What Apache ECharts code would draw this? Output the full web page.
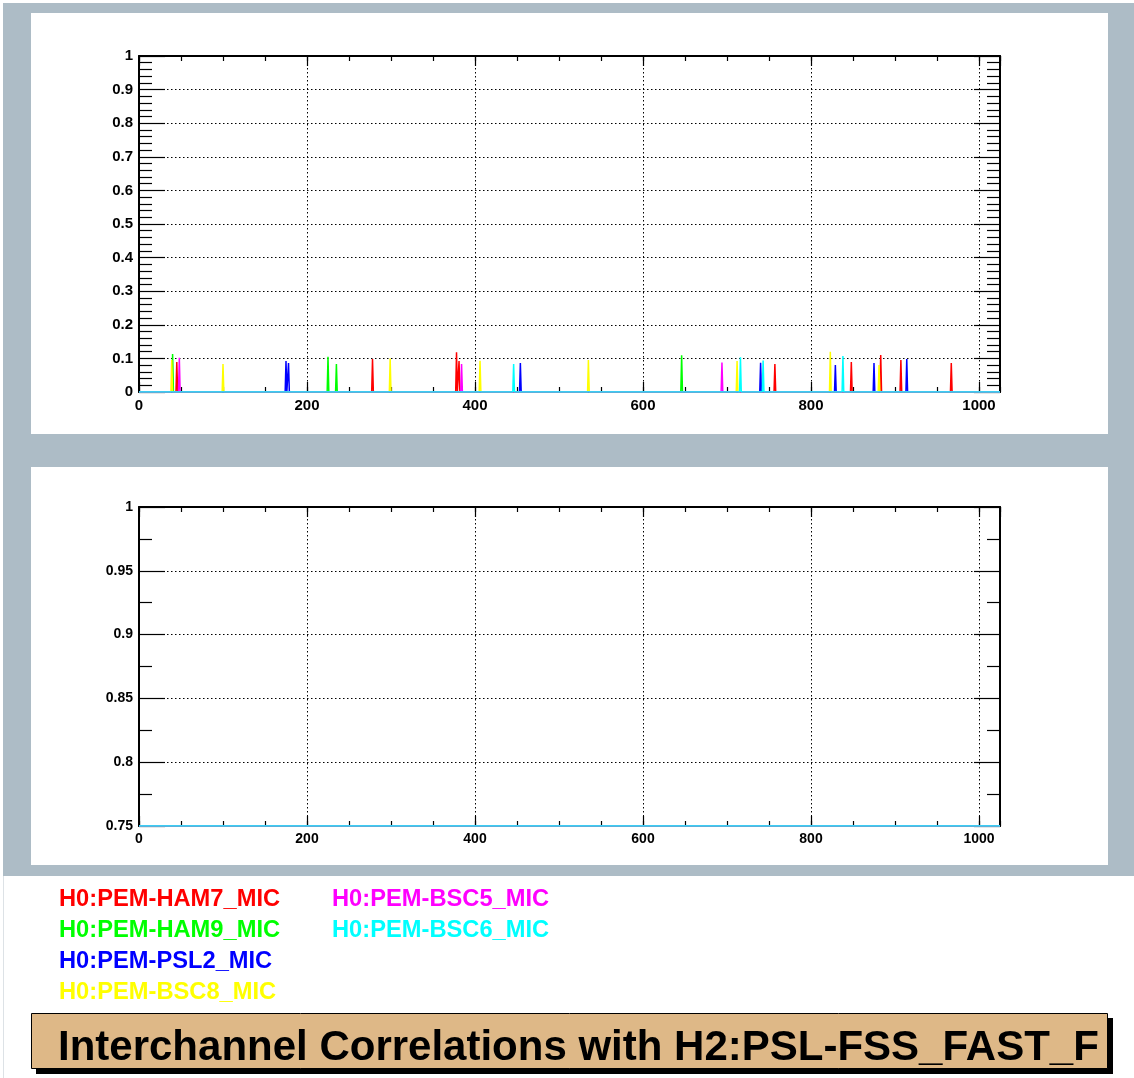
<!DOCTYPE html>
<html>
<head>
<meta charset="utf-8">
<script src="https://cdn.jsdelivr.net/npm/echarts@6/dist/echarts.min.js"></script>
<style>
  html, body { margin: 0; padding: 0; background: #ffffff; }
  #chart { width: 1134px; height: 1078px; }
</style>
</head>
<body>
<div id="chart"></div>
<script>
// Frequency axis (Hz) shared by both panels
const X_MIN = 0;
const X_MAX = 1025;
const X_MAJOR = 200;
const X_MINOR = 50;

// Correlation axis ranges: full range on top, zoomed range below
const TOP_Y_MIN = 0, TOP_Y_MAX = 1, TOP_Y_STEP = 0.1, TOP_Y_SUB = 5;
const BOT_Y_MIN = 0.75, BOT_Y_MAX = 1, BOT_Y_STEP = 0.05, BOT_Y_SUB = 2;

// Channels, in drawing order
const channelNames = [
  'H0:PEM-HAM7_MIC',
  'H0:PEM-HAM9_MIC',
  'H0:PEM-PSL2_MIC',
  'H0:PEM-BSC8_MIC',
  'H0:PEM-BSC5_MIC',
  'H0:PEM-BSC6_MIC'
];
const channelColors = ['#ff0000', '#00ff00', '#0000ff', '#ffff00', '#ff00ff', '#00ffff'];

// Correlation peaks per channel: frequency (Hz) and correlation value.
// Everywhere else the correlation is zero.
const ham7Freq = [45, 278, 378, 381, 757, 848, 883, 907, 967];
const ham7Corr = [0.089, 0.098, 0.118, 0.092, 0.083, 0.089, 0.110, 0.095, 0.086];

const ham9Freq = [40, 225, 235, 646];
const ham9Corr = [0.113, 0.105, 0.083, 0.109];

const psl2Freq = [175, 178, 454, 740, 829, 875, 914];
const psl2Corr = [0.092, 0.086, 0.086, 0.087, 0.080, 0.086, 0.098];

const bsc8Freq = [39, 100, 299, 406, 535, 712, 823, 881];
const bsc8Corr = [0.095, 0.083, 0.100, 0.093, 0.095, 0.092, 0.120, 0.080];

const bsc5Freq = [48, 384, 694];
const bsc5Corr = [0.102, 0.083, 0.088];

const bsc6Freq = [446, 716, 743, 838];
const bsc6Corr = [0.083, 0.103, 0.094, 0.107];

const peakFreqs = [ham7Freq, ham9Freq, psl2Freq, bsc8Freq, bsc5Freq, bsc6Freq];
const peakCorrs = [ham7Corr, ham9Corr, psl2Corr, bsc8Corr, bsc5Corr, bsc6Corr];

const FONT = '"Liberation Sans", Arial, Helvetica, sans-serif';

// Build a trace: zero baseline with one-bin-wide peaks.
// Values under the axis floor are drawn on the frame edge.
function buildTrace(freqs, corrs, floor) {
  const pts = [[X_MIN, 0]];
  freqs.forEach(function (f, i) {
    pts.push([f - 1, 0], [f, corrs[i]], [f + 1, 0]);
  });
  pts.push([X_MAX, 0]);
  return pts.map(function (p) { return [p[0], Math.max(p[1], floor)]; });
}

const GRIDS = [
  { left: 139, top: 56, width: 861, height: 336, yMin: TOP_Y_MIN, yMax: TOP_Y_MAX, yStep: TOP_Y_STEP, ySub: TOP_Y_SUB, font: 15 },
  { left: 139, top: 507, width: 861, height: 319, yMin: BOT_Y_MIN, yMax: BOT_Y_MAX, yStep: BOT_Y_STEP, ySub: BOT_Y_SUB, font: 14 }
];

const dotted = { color: '#000', width: 1, type: [1.5, 2.5] };
const frameLine = { show: true, onZero: false, lineStyle: { color: '#000', width: 2 } };
const tickLine = { color: '#000', width: 1.2 };

const grid = [], xAxis = [], yAxis = [], series = [];

GRIDS.forEach(function (g, gi) {
  grid.push({ left: g.left, top: g.top, width: g.width, height: g.height, containLabel: false });

  const xBase = { type: 'value', gridIndex: gi, min: X_MIN, max: X_MAX };
  // bottom: labelled axis with major ticks and dotted grid
  xAxis.push(Object.assign({}, xBase, {
    position: 'bottom', interval: X_MAJOR,
    axisLine: frameLine,
    axisTick: { show: true, inside: true, length: 10, lineStyle: tickLine },
    axisLabel: { show: true, margin: 6, showMaxLabel: false, color: '#000', fontWeight: 'bold',
      fontFamily: FONT, fontSize: g.font, formatter: function (v) { return String(v); } },
    splitLine: { show: true, lineStyle: dotted }
  }));
  // bottom: secondary ticks
  xAxis.push(Object.assign({}, xBase, {
    position: 'bottom', interval: X_MINOR,
    axisLine: { show: false, onZero: false },
    axisTick: { show: true, inside: true, length: 5, lineStyle: tickLine },
    axisLabel: { show: false }, splitLine: { show: false }
  }));
  // top: frame edge with major ticks
  xAxis.push(Object.assign({}, xBase, {
    position: 'top', interval: X_MAJOR,
    axisLine: frameLine,
    axisTick: { show: true, inside: true, length: 10, lineStyle: tickLine },
    axisLabel: { show: false }, splitLine: { show: false }
  }));
  // top: secondary ticks
  xAxis.push(Object.assign({}, xBase, {
    position: 'top', interval: X_MINOR,
    axisLine: { show: false, onZero: false },
    axisTick: { show: true, inside: true, length: 5, lineStyle: tickLine },
    axisLabel: { show: false }, splitLine: { show: false }
  }));

  const yBase = { type: 'value', gridIndex: gi, min: g.yMin, max: g.yMax, interval: g.yStep };
  yAxis.push(Object.assign({}, yBase, {
    position: 'left',
    axisLine: frameLine,
    axisTick: { show: true, inside: true, length: 26, lineStyle: tickLine },
    minorTick: { show: true, splitNumber: g.ySub, length: 13, lineStyle: tickLine },
    axisLabel: { show: true, margin: 6, color: '#000', fontWeight: 'bold', fontFamily: FONT, fontSize: g.font },
    splitLine: { show: true, lineStyle: dotted }
  }));
  yAxis.push(Object.assign({}, yBase, {
    position: 'right',
    axisLine: frameLine,
    axisTick: { show: true, inside: true, length: 26, lineStyle: tickLine },
    minorTick: { show: true, splitNumber: g.ySub, length: 13, lineStyle: tickLine },
    axisLabel: { show: false }, splitLine: { show: false }
  }));

  channelNames.forEach(function (name, ci) {
    series.push({
      type: 'line', name: name,
      xAxisIndex: gi * 4, yAxisIndex: gi * 2,
      data: buildTrace(peakFreqs[ci], peakCorrs[ci], g.yMin),
      showSymbol: false, symbol: 'none',
      lineStyle: { color: channelColors[ci], width: 1.5 },
      itemStyle: { color: channelColors[ci] },
      clip: true, animation: false, silent: true
    });
  });
});

function legendItems(names) {
  return names.map(function (n) {
    return { name: n, textStyle: { color: channelColors[channelNames.indexOf(n)] } };
  });
}
const legendText = { fontSize: 23.7, fontWeight: 'bold', fontFamily: FONT };

const option = {
  backgroundColor: '#ffffff',
  animation: false,
  title: {
    text: 'Interchannel Correlations with H2:PSL-FSS_FAST_F',
    left: 58, top: 1027, padding: 0,
    textStyle: { color: '#000', fontSize: 42, fontWeight: 'bold', fontFamily: FONT }
  },
  legend: [
    { data: legendItems(channelNames.slice(0, 4)), orient: 'vertical', left: 54, top: 887, padding: 0,
      icon: 'none', itemWidth: 0, itemHeight: 0, itemGap: 7, textStyle: legendText, selectedMode: false },
    { data: legendItems(channelNames.slice(4)), orient: 'vertical', left: 327, top: 887, padding: 0,
      icon: 'none', itemWidth: 0, itemHeight: 0, itemGap: 7, textStyle: legendText, selectedMode: false }
  ],
  graphic: {
    elements: [
      { type: 'rect', z: -20, shape: { x: 3, y: 3, width: 1131, height: 873 }, style: { fill: '#adbcc6' } },
      { type: 'rect', z: -19, shape: { x: 31, y: 13, width: 1077, height: 421 }, style: { fill: '#ffffff' } },
      { type: 'rect', z: -19, shape: { x: 31, y: 467, width: 1077, height: 398 }, style: { fill: '#ffffff' } },
      { type: 'line', z: -19, shape: { x1: 3.5, y1: 876, x2: 3.5, y2: 1078 }, style: { stroke: '#dde2e6', lineWidth: 1 } },
      { type: 'rect', z: -18, shape: { x: 36, y: 1018, width: 1077, height: 56 }, style: { fill: '#000000' } },
      { type: 'rect', z: -17, shape: { x: 31.5, y: 1013.5, width: 1076, height: 55 }, style: { fill: '#deb887', stroke: '#000', lineWidth: 1 } }
    ]
  },
  grid: grid,
  xAxis: xAxis,
  yAxis: yAxis,
  series: series
};

const chart = echarts.init(document.getElementById('chart'), null, { renderer: 'canvas' });
chart.setOption(option);
</script>
</body>
</html>
